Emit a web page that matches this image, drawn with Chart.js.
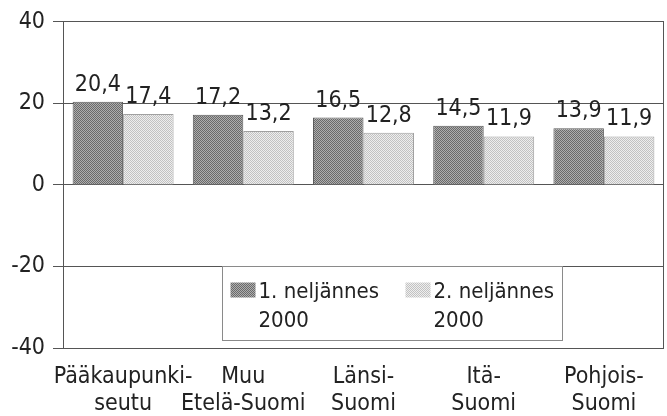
<!DOCTYPE html>
<html>
<head>
<meta charset="utf-8">
<script src="https://cdn.jsdelivr.net/npm/chart.js@4.4.1/dist/chart.umd.min.js"></script>
<style>
  html, body { margin: 0; padding: 0; background: #fff; }
  #wrap { width: 667px; height: 416px; }
</style>
</head>
<body>
<div id="wrap"><canvas id="regionChart" width="667" height="416"></canvas></div>
<script>
// data
var regions = [
	["Pääkaupunki-", "seutu"],
	["Muu", "Etelä-Suomi"],
	["Länsi-", "Suomi"],
	["Itä-", "Suomi"],
	["Pohjois-", "Suomi"]
];
var seriesNames = [["1. neljännes", "2000"], ["2. neljännes", "2000"]];
var q1Values = [20.4, 17.2, 16.5, 14.5, 13.9];
var q2Values = [17.4, 13.2, 12.8, 11.9, 11.9];
var yTicks = [-40, -20, 0, 20, 40];

var FONT = "'Liberation Sans Narrow', 'Arial Narrow', 'DejaVu Sans Condensed', sans-serif";
var INK = '#222';

// dotted fills like the printed original
function dotPattern(a, b) {
	var c = document.createElement('canvas');
	c.width = 2; c.height = 2;
	var g = c.getContext('2d');
	g.fillStyle = b; g.fillRect(0, 0, 2, 2);
	g.fillStyle = a; g.fillRect(0, 0, 1, 1); g.fillRect(1, 1, 1, 1);
	return g.createPattern(c, 'repeat');
}
var darkFill = dotPattern('#6a6a6a', '#aeaeae');
var lightFill = dotPattern('#c2c2c2', '#eeeeee');

// value labels above each bar
var valueLabels = {
	id: 'valueLabels',
	afterDatasetsDraw: function(chart) {
		var ctx = chart.ctx;
		ctx.save();
		ctx.font = '23px ' + FONT;
		ctx.fillStyle = INK;
		ctx.textAlign = 'center';
		ctx.textBaseline = 'alphabetic';
		chart.data.datasets.forEach(function(ds, i) {
			chart.getDatasetMeta(i).data.forEach(function(bar, j) {
				ctx.fillText(ds.data[j].toFixed(1).replace('.', ','), bar.x, bar.y - 11);
			});
		});
		ctx.restore();
	}
};

// frame on the right + boxed legend sitting on the -20 line
var frameAndLegend = {
	id: 'frameAndLegend',
	afterDraw: function(chart) {
		var ctx = chart.ctx, a = chart.chartArea, y = chart.scales.y;
		ctx.save();
		ctx.strokeStyle = '#555';
		ctx.lineWidth = 1;
		ctx.beginPath();
		ctx.moveTo(Math.round(a.right) - 0.5, a.top);
		ctx.lineTo(Math.round(a.right) - 0.5, a.bottom);
		ctx.stroke();

		var w = a.right - a.left;
		var left = Math.round(a.left + w * 0.265) + 0.5;
		var right = Math.round(a.left + w * 0.83) + 0.5;
		var top = Math.round(y.getPixelForValue(-20)) + 0.5;
		var bottom = top + 74;
		ctx.fillStyle = '#fff';
		ctx.fillRect(left, top, right - left, bottom - top);
		ctx.strokeStyle = '#8a8a8a';
		ctx.strokeRect(left, top, right - left, bottom - top);

		ctx.font = '22px ' + FONT;
		ctx.textAlign = 'left';
		ctx.textBaseline = 'alphabetic';
		var itemX = [left + 8, left + 183];
		chart.data.datasets.forEach(function(ds, i) {
			var sx = itemX[i];
			ctx.fillStyle = ds.backgroundColor;
			ctx.fillRect(sx, top + 16, 25, 15);
			ctx.fillStyle = INK;
			ds.label.forEach(function(line, k) {
				ctx.fillText(line, sx + 28, top + 31 + k * 29);
			});
		});
		ctx.restore();
	}
};

var ctx = document.getElementById('regionChart').getContext('2d');
var chart = new Chart(ctx, {
	type: 'bar',
	data: {
		labels: regions,
		datasets: [{
			label: seriesNames[0],
			data: q1Values,
			backgroundColor: darkFill,
			borderColor: '#5a5a5a',
			borderWidth: 1
		}, {
			label: seriesNames[1],
			data: q2Values,
			backgroundColor: lightFill,
			borderColor: '#a0a0a0',
			borderWidth: 1
		}]
	},
	options: {
		responsive: false,
		animation: false,
		events: [],
		layout: { padding: { top: 19, right: 3, left: 0, bottom: 0 } },
		plugins: { legend: { display: false }, tooltip: { enabled: false } },
		datasets: { bar: { categoryPercentage: 0.84, barPercentage: 1.0 } },
		scales: {
			x: {
				grid: { display: false },
				border: { display: false },
				ticks: {
					font: { family: FONT, size: 23, lineHeight: 1.2 },
					color: INK,
					maxRotation: 0,
					autoSkip: false,
					padding: 7
				},
				afterFit: function(s) { s.height = 68; }
			},
			y: {
				min: yTicks[0],
				max: yTicks[yTicks.length - 1],
				afterBuildTicks: function(s) {
					s.ticks = yTicks.map(function(v) { return { value: v }; });
				},
				grid: { color: '#555', lineWidth: 1, tickLength: 10 },
				border: { color: '#555', width: 1 },
				ticks: {
					font: { family: FONT, size: 23 },
					color: INK,
					padding: 8,
					callback: function(v) { return String(v); }
				},
				afterFit: function(s) { s.width = 63; }
			}
		}
	},
	plugins: [valueLabels, frameAndLegend]
});
</script>
</body>
</html>
